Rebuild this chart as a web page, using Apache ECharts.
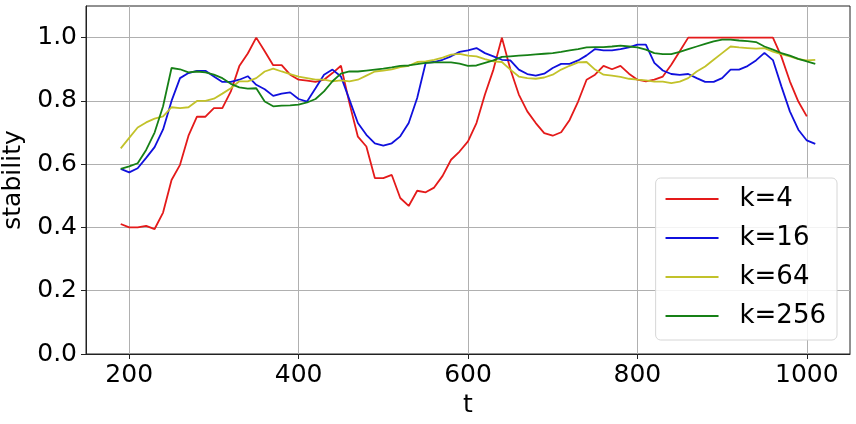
<!DOCTYPE html>
<html>
<head>
<meta charset="utf-8">
<script src="https://cdn.jsdelivr.net/npm/echarts@6/dist/echarts.min.js"></script>
<style>
  html, body { margin: 0; padding: 0; background: #fff; }
  #chart { width: 856px; height: 424px; }
</style>
</head>
<body>
<div id="chart"></div>
<script>
  // t from 190 to 1010, step 10
  const tValues = [];
  for (let t = 190; t <= 1010; t += 10) tValues.push(t);

  const xTicks = [200, 400, 600, 800, 1000];
  const yTicks = [0, 0.2, 0.4, 0.6, 0.8, 1.0];

  const seriesNames = ['k=4', 'k=16', 'k=64', 'k=256'];

  const k4 = [
    0.411, 0.400, 0.400, 0.405, 0.395, 0.447, 0.550, 0.598, 0.690, 0.750,
    0.750, 0.777, 0.777, 0.830, 0.910, 0.950, 1.000, 0.957, 0.913, 0.913,
    0.883, 0.867, 0.864, 0.860, 0.867, 0.888, 0.911, 0.793, 0.687, 0.656,
    0.556, 0.556, 0.566, 0.493, 0.468, 0.516, 0.511, 0.526, 0.563, 0.614,
    0.640, 0.672, 0.730, 0.820, 0.899, 1.000, 0.900, 0.820, 0.767, 0.730,
    0.698, 0.690, 0.701, 0.740, 0.798, 0.867, 0.883, 0.911, 0.900, 0.911,
    0.886, 0.867, 0.862, 0.867, 0.877, 0.914, 0.957, 1.000, 1.000, 1.000,
    1.000, 1.000, 1.000, 1.000, 1.000, 1.000, 1.000, 1.000, 0.940, 0.862,
    0.798, 0.751
  ];
  const k16 = [
    0.585, 0.574, 0.587, 0.620, 0.654, 0.710, 0.800, 0.872, 0.888, 0.895,
    0.895, 0.877, 0.860, 0.860, 0.867, 0.878, 0.851, 0.837, 0.816, 0.823,
    0.827, 0.806, 0.798, 0.840, 0.883, 0.899, 0.877, 0.804, 0.730, 0.693,
    0.666, 0.659, 0.666, 0.688, 0.730, 0.809, 0.920, 0.923, 0.930, 0.941,
    0.955, 0.960, 0.967, 0.951, 0.941, 0.930, 0.928, 0.899, 0.885, 0.880,
    0.886, 0.904, 0.917, 0.917, 0.928, 0.944, 0.964, 0.960, 0.960, 0.964,
    0.969, 0.978, 0.978, 0.920, 0.896, 0.885, 0.882, 0.885, 0.872, 0.860,
    0.860, 0.872, 0.899, 0.899, 0.910, 0.928, 0.952, 0.929, 0.846, 0.767,
    0.709, 0.675, 0.664
  ];
  const k64 = [
    0.650, 0.683, 0.716, 0.732, 0.744, 0.751, 0.780, 0.777, 0.780, 0.800,
    0.800, 0.807, 0.823, 0.840, 0.862, 0.862, 0.872, 0.893, 0.902, 0.893,
    0.885, 0.877, 0.872, 0.867, 0.867, 0.862, 0.865, 0.862, 0.867, 0.880,
    0.893, 0.896, 0.900, 0.907, 0.911, 0.923, 0.925, 0.930, 0.937, 0.946,
    0.949, 0.943, 0.941, 0.932, 0.925, 0.923, 0.899, 0.877, 0.872, 0.870,
    0.874, 0.883, 0.899, 0.911, 0.922, 0.923, 0.899, 0.883, 0.880, 0.876,
    0.870, 0.867, 0.865, 0.861, 0.861, 0.856, 0.861, 0.872, 0.893, 0.909,
    0.930, 0.951, 0.972, 0.969, 0.967, 0.965, 0.967, 0.956, 0.948, 0.941,
    0.932, 0.928, 0.930
  ];
  const k256 = [
    0.585, 0.593, 0.603, 0.645, 0.700, 0.783, 0.904, 0.900, 0.890, 0.893,
    0.890, 0.883, 0.872, 0.854, 0.843, 0.839, 0.840, 0.798, 0.783, 0.785,
    0.786, 0.788, 0.795, 0.806, 0.830, 0.862, 0.886, 0.893, 0.893, 0.896,
    0.899, 0.902, 0.906, 0.911, 0.912, 0.916, 0.920, 0.922, 0.922, 0.922,
    0.918, 0.911, 0.912, 0.920, 0.928, 0.939, 0.941, 0.943, 0.945, 0.947,
    0.949, 0.951, 0.955, 0.960, 0.964, 0.969, 0.970, 0.970, 0.972, 0.975,
    0.972, 0.969, 0.962, 0.951, 0.948, 0.948, 0.955, 0.964, 0.972, 0.980,
    0.988, 0.994, 0.994, 0.991, 0.989, 0.986, 0.972, 0.962, 0.951, 0.943,
    0.933, 0.925, 0.917
  ];

  const colors = ['#e41a1a', '#1010dd', '#c2c22a', '#168016'];
  const font = 'DejaVu Sans';
  const fontSize = 25;

  function pairs(values) {
    return values.map((v, i) => [tValues[i], v]);
  }

  const option = {
    animation: false,
    color: colors,
    grid: {
      left: 86,
      right: 6,
      top: 6,
      bottom: 70,
      containLabel: false,
      outerBoundsMode: 'none',
      show: true,
      borderColor: '#222',
      borderWidth: 1
    },
    legend: {
      orient: 'vertical',
      right: 19,
      top: 178,
      itemWidth: 53,
      itemHeight: 14,
      itemGap: 9,
      padding: [6, 11, 9, 9],
      backgroundColor: 'rgba(255,255,255,0.85)',
      borderColor: '#d6d6d6',
      borderWidth: 1,
      borderRadius: 5,
      itemStyle: { opacity: 0 },
      lineStyle: { width: 1.8 },
      textStyle: {
        fontFamily: font,
        fontSize: 26,
        lineHeight: 30,
        color: '#000',
        padding: [0, 0, 0, 16]
      },
      data: seriesNames
    },
    xAxis: {
      type: 'value',
      name: 't',
      nameLocation: 'middle',
      nameGap: 32,
      nameTextStyle: { fontFamily: font, fontSize: fontSize, color: '#000' },
      min: 149,
      max: 1051,
      axisLine: { show: true, onZero: false, lineStyle: { color: '#222', width: 1 } },
      axisTick: { show: true, length: 5, lineStyle: { color: '#222' }, customValues: xTicks },
      axisLabel: {
        fontFamily: font, fontSize: fontSize, color: '#000', margin: 9,
        customValues: xTicks,
        formatter: v => String(v)
      },
      splitLine: { show: true, lineStyle: { color: '#b0b0b0', width: 1 } }
    },
    yAxis: {
      type: 'value',
      name: 'stability',
      nameLocation: 'middle',
      nameGap: 50,
      nameTextStyle: { fontFamily: font, fontSize: fontSize, color: '#000' },
      min: 0,
      max: 1.1,
      axisLine: { show: true, lineStyle: { color: '#222', width: 1 } },
      axisTick: { show: true, length: 5, lineStyle: { color: '#222' }, customValues: yTicks },
      axisLabel: {
        fontFamily: font, fontSize: fontSize, color: '#000', margin: 9,
        customValues: yTicks,
        formatter: v => v.toFixed(1)
      },
      splitLine: { show: true, lineStyle: { color: '#b0b0b0', width: 1 } }
    },
    series: [
      { name: seriesNames[0], type: 'line', data: pairs(k4) },
      { name: seriesNames[1], type: 'line', data: pairs(k16) },
      { name: seriesNames[2], type: 'line', data: pairs(k64) },
      { name: seriesNames[3], type: 'line', data: pairs(k256) }
    ].map(s => Object.assign(s, {
      symbol: 'none',
      lineStyle: { width: 1.8 }
    }))
  };

  const myChart = echarts.init(document.getElementById('chart'));
  myChart.setOption(option);
</script>
</body>
</html>
